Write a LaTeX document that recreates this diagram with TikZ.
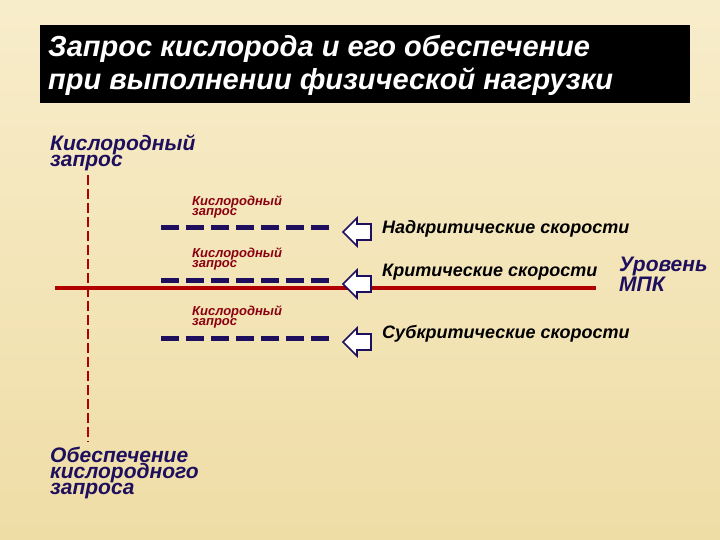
\documentclass[tikz,border=0pt]{standalone}
\usepackage{fontspec}
\setmainfont{Liberation Sans}
\definecolor{bgA}{HTML}{F8EDCB}
\definecolor{bgB}{HTML}{EFDDA6}
\definecolor{navy}{HTML}{1E0F5E}
\definecolor{dred}{HTML}{B00000}
\definecolor{lred}{HTML}{8A0010}
\begin{document}
\begin{tikzpicture}[x=1pt,y=-1pt,
  txt/.style={font=\bfseries\itshape, inner sep=0pt, anchor=west, align=left},
  lbl/.style={txt, text=navy, font=\bfseries\itshape\fontsize{21}{16}\selectfont},
  small/.style={txt, text=lred, font=\bfseries\itshape\fontsize{13}{9}\selectfont},
  speed/.style={txt, text=black, font=\bfseries\itshape\fontsize{18}{18}\selectfont},
  dashline/.style={navy, line width=5pt, dash pattern=on 18pt off 7pt},
  arr/.style={draw=navy, line width=1.6pt, fill=white, line join=miter}]
\shade[top color=bgA, bottom color=bgB] (0,0) rectangle (720,540);
\useasboundingbox (0,0) rectangle (720,540);
\fill[black] (40,25) rectangle (690,103);
\node[txt, text=white, font=\bfseries\itshape\fontsize{29}{33}\selectfont] (title) at (48,65) {Запрос кислорода и его обеспечение\\при выполнении физической нагрузки};
\node[lbl] (top) at (50,153) {Кислородный\\запрос};
\node[lbl] (bot) at (50,473) {Обеспечение\\кислородного\\запроса};
\coordinate (v1) at (88,175);
\coordinate (v2) at (88,442);
\draw[dred, line width=2.5pt, dash pattern=on 10pt off 4pt] (v1) -- (v2);
\coordinate (h1) at (55,288);
\coordinate (h2) at (596,288);
\draw[dred, line width=4pt] (h1) -- (h2);
\foreach \y/\n in {228/a,280/b,338/c}{
  \coordinate (d\n1) at (161,\y);
  \coordinate (d\n2) at (331,\y);
  \draw[dashline] (d\n1) -- (d\n2);
  \node[small] (s\n) at (192,\y-21) {Кислородный\\запрос};
  \draw[arr] (343,\y+4) -- (357,\y-10) -- (357,\y-4) -- (371,\y-4) -- (371,\y+12) -- (357,\y+12) -- (357,\y+18) -- cycle;
}
\node[speed] (n1) at (382,229) {Надкритические скорости};
\node[speed] (n2) at (382,272) {Критические скорости};
\node[speed] (n3) at (382,334) {Субкритические скорости};
\node[txt, text=navy, font=\bfseries\itshape\fontsize{21}{18}\selectfont] (mpk) at (619,274) {Уровень\\МПК};
\end{tikzpicture}
\end{document}
